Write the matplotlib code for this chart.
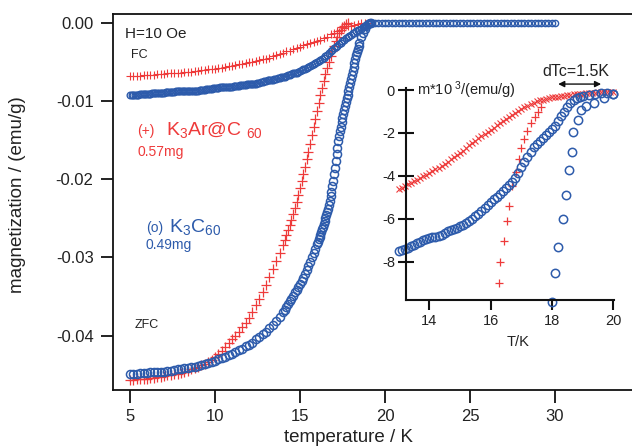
import matplotlib
matplotlib.use("Agg")
import matplotlib.pyplot as plt

plt.rcParams['font.family'] = ['Liberation Sans', 'DejaVu Sans']
plt.rcParams['mathtext.fontset'] = 'custom'
plt.rcParams['mathtext.rm'] = 'Liberation Sans'
plt.rcParams['mathtext.it'] = 'Liberation Sans:italic'
plt.rcParams['mathtext.bf'] = 'Liberation Sans:bold'
plt.rcParams['axes.unicode_minus'] = False

RED = '#ee3a3a'
BLUE = '#2d5bab'
TXT = '#222222'

# ---------------- main panel data (emu/g) ----------------
# K3Ar@C60, field cooled
ar_fc_T = [5.0, 5.2, 5.4, 5.6, 5.8, 6.0, 6.2, 6.4, 6.6, 6.8, 7.0, 7.2, 7.4, 7.6, 7.8, 8.0,
           8.2, 8.4, 8.6, 8.8, 9.0, 9.2, 9.4, 9.6, 9.8, 10.0, 10.2, 10.4, 10.6, 10.8, 11.0,
           11.2, 11.4, 11.6, 11.8, 12.0, 12.2, 12.4, 12.6, 12.8, 13.0, 13.2, 13.4, 13.6, 13.8,
           14.0, 14.2, 14.4, 14.6, 14.8, 15.0, 15.2, 15.4, 15.6, 15.8, 16.0, 16.2, 16.4, 16.6,
           16.8, 17.0, 17.2, 17.4, 17.6, 17.8, 18.0, 18.2, 18.4, 18.6, 18.8, 19.0]
ar_fc_M = [-0.0068, -0.0068, -0.0068, -0.0068, -0.0067, -0.0067, -0.0067, -0.0067, -0.0066,
           -0.0066, -0.0066, -0.0065, -0.0065, -0.0064, -0.0064, -0.0064, -0.0063, -0.0063,
           -0.0063, -0.0062, -0.0062, -0.0061, -0.0061, -0.0060, -0.0060, -0.0059, -0.0058,
           -0.0058, -0.0057, -0.0056, -0.0055, -0.0054, -0.0053, -0.0053, -0.0052, -0.0051,
           -0.0050, -0.0049, -0.0048, -0.0047, -0.0046, -0.0045, -0.0043, -0.0042, -0.0040,
           -0.0039, -0.0037, -0.0036, -0.0034, -0.0033, -0.0031, -0.0029, -0.0027, -0.0026,
           -0.0025, -0.0024, -0.0022, -0.0020, -0.0018, -0.0015, -0.0013, -0.0011, -0.0009,
           -0.0007, -0.0005, -0.0004, -0.0003, -0.0002, -0.0001, -0.0001, 0.0]

# K3C60, field cooled
c60_fc_T = [5.0, 5.1, 5.2, 5.3, 5.4, 5.5, 5.6, 5.7, 5.8, 5.9, 6.0, 6.1, 6.2, 6.3, 6.4, 6.5,
            6.6, 6.7, 6.8, 6.9, 7.0, 7.1, 7.2, 7.3, 7.4, 7.5, 7.6, 7.7, 7.8, 7.9, 8.0, 8.1,
            8.2, 8.3, 8.4, 8.5, 8.6, 8.7, 8.8, 8.9, 9.0, 9.1, 9.2, 9.3, 9.4, 9.5, 9.6, 9.7,
            9.8, 9.9, 10.0, 10.1, 10.2, 10.3, 10.4, 10.5, 10.6, 10.7, 10.8, 10.9, 11.0, 11.1,
            11.2, 11.3, 11.4, 11.5, 11.6, 11.7, 11.8, 11.9, 12.0, 12.1, 12.2, 12.3, 12.4, 12.5,
            12.6, 12.7, 12.8, 12.9, 13.0, 13.1, 13.2, 13.3, 13.4, 13.5, 13.6, 13.7, 13.8, 13.9,
            14.0, 14.1, 14.2, 14.3, 14.4, 14.5, 14.6, 14.7, 14.8, 14.9, 15.0, 15.1, 15.2, 15.3,
            15.4, 15.5, 15.6, 15.7, 15.8, 15.9, 16.0, 16.1, 16.2, 16.3, 16.4, 16.5, 16.6, 16.7,
            16.8, 16.9, 17.0, 17.1, 17.2, 17.3, 17.4, 17.5, 17.6, 17.7, 17.8, 17.9, 18.0, 18.1,
            18.2, 18.3, 18.4, 18.5, 18.6, 18.7, 18.8, 18.9, 19.0, 19.1, 19.2]
c60_fc_M = [-0.0092, -0.0092, -0.0092, -0.0092, -0.0092, -0.0092, -0.0091, -0.0091, -0.0091,
            -0.0091, -0.0091, -0.0091, -0.0091, -0.0090, -0.0090, -0.0090, -0.0090, -0.0090,
            -0.0090, -0.0090, -0.0090, -0.0089, -0.0089, -0.0089, -0.0089, -0.0089, -0.0089,
            -0.0088, -0.0088, -0.0088, -0.0088, -0.0088, -0.0088, -0.0088, -0.0088, -0.0087,
            -0.0087, -0.0087, -0.0087, -0.0087, -0.0087, -0.0086, -0.0086, -0.0086, -0.0086,
            -0.0085, -0.0085, -0.0085, -0.0085, -0.0084, -0.0084, -0.0084, -0.0084, -0.0083,
            -0.0083, -0.0083, -0.0083, -0.0082, -0.0082, -0.0082, -0.0082, -0.0081, -0.0081,
            -0.0081, -0.0081, -0.0080, -0.0080, -0.0080, -0.0080, -0.0079, -0.0079, -0.0079,
            -0.0078, -0.0078, -0.0078, -0.0077, -0.0077, -0.0076, -0.0076, -0.0075, -0.0075,
            -0.0074, -0.0074, -0.0073, -0.0073, -0.0072, -0.0072, -0.0071, -0.0071, -0.0070,
            -0.0070, -0.0069, -0.0068, -0.0067, -0.0067, -0.0066, -0.0065, -0.0064, -0.0064,
            -0.0063, -0.0062, -0.0061, -0.0060, -0.0059, -0.0058, -0.0057, -0.0056, -0.0054,
            -0.0053, -0.0052, -0.0051, -0.0049, -0.0048, -0.0046, -0.0045, -0.0043, -0.0041,
            -0.0039, -0.0037, -0.0035, -0.0033, -0.0031, -0.0030, -0.0028, -0.0026, -0.0024,
            -0.0022, -0.0020, -0.0019, -0.0017, -0.0016, -0.0014, -0.0013, -0.0011, -0.0010,
            -0.0009, -0.0008, -0.0006, -0.0005, -0.0003, -0.0002, -0.0001, 0.0]

# K3Ar@C60, zero field cooled
ar_zfc_T = [5.0, 5.2, 5.4, 5.6, 5.8, 6.0, 6.2, 6.4, 6.6, 6.8, 7.0, 7.2, 7.4, 7.6, 7.8, 8.0,
            8.2, 8.4, 8.6, 8.8, 9.0, 9.2, 9.4, 9.6, 9.8, 10.0, 10.2, 10.4, 10.6, 10.8, 11.0,
            11.2, 11.4, 11.6, 11.8, 12.0, 12.2, 12.4, 12.6, 12.8, 13.0, 13.2, 13.4, 13.6, 13.8,
            14.0, 14.1, 14.2, 14.3, 14.4, 14.5, 14.6, 14.7, 14.8, 14.9, 15.0, 15.1, 15.2, 15.3,
            15.4, 15.5, 15.6, 15.7, 15.8, 15.9, 16.0, 16.1, 16.2, 16.3, 16.4, 16.5, 16.6, 16.7,
            16.8, 16.9, 17.0, 17.1, 17.2, 17.3, 17.4, 17.5, 17.6, 17.7, 17.8]
ar_zfc_M = [-0.0457, -0.0457, -0.0456, -0.0456, -0.0455, -0.0455, -0.0454, -0.0454, -0.0453,
            -0.0453, -0.0452, -0.0451, -0.0450, -0.0449, -0.0449, -0.0448, -0.0446, -0.0445,
            -0.0443, -0.0442, -0.0440, -0.0438, -0.0436, -0.0434, -0.0431, -0.0428, -0.0424,
            -0.0420, -0.0415, -0.0410, -0.0405, -0.0400, -0.0395, -0.0389, -0.0384, -0.0378,
            -0.0370, -0.0361, -0.0353, -0.0344, -0.0335, -0.0325, -0.0315, -0.0305, -0.0294,
            -0.0284, -0.0278, -0.0272, -0.0265, -0.0259, -0.0252, -0.0245, -0.0237, -0.0229,
            -0.0221, -0.0212, -0.0203, -0.0194, -0.0184, -0.0175, -0.0165, -0.0155, -0.0144,
            -0.0134, -0.0123, -0.0113, -0.0103, -0.0093, -0.0084, -0.0075, -0.0066, -0.0058,
            -0.0050, -0.0043, -0.0036, -0.0030, -0.0024, -0.0018, -0.0013, -0.0009, -0.0006,
            -0.0004, -0.0002, -0.0001]

# K3C60, zero field cooled
c60_zfc_T = [5.0, 5.2, 5.4, 5.6, 5.8, 6.0, 6.2, 6.4, 6.6, 6.8, 7.0, 7.2, 7.4, 7.6, 7.8, 8.0,
             8.2, 8.4, 8.6, 8.8, 9.0, 9.2, 9.4, 9.6, 9.8, 10.0, 10.2, 10.4, 10.6, 10.8, 11.0,
             11.2, 11.4, 11.6, 11.8, 12.0, 12.2, 12.4, 12.6, 12.8, 13.0, 13.2, 13.4, 13.6, 13.8,
             14.0, 14.1, 14.2, 14.3, 14.4, 14.5, 14.6, 14.7, 14.8, 14.9, 15.0, 15.1, 15.2, 15.3,
             15.4, 15.5, 15.6, 15.7, 15.8, 15.9, 16.0, 16.05, 16.1, 16.15, 16.2, 16.25, 16.3,
             16.35, 16.4, 16.45, 16.5, 16.55, 16.6, 16.65, 16.7, 16.75, 16.8, 16.85, 16.9, 16.95,
             17.0, 17.05, 17.1, 17.15, 17.2, 17.25, 17.3, 17.35, 17.4, 17.45, 17.5, 17.55, 17.6,
             17.65, 17.7, 17.75, 17.8, 17.85, 17.9, 17.95, 18.0, 18.05, 18.1, 18.15, 18.2, 18.25,
             18.3, 18.35, 18.4, 18.45, 18.5, 18.6, 18.7, 18.8, 18.9, 19.0, 19.1, 19.2]
c60_zfc_M = [-0.0449, -0.0449, -0.0449, -0.0448, -0.0448, -0.0448, -0.0447, -0.0447, -0.0447,
             -0.0446, -0.0446, -0.0445, -0.0445, -0.0444, -0.0443, -0.0443, -0.0442, -0.0441,
             -0.0440, -0.0440, -0.0439, -0.0438, -0.0436, -0.0435, -0.0434, -0.0432, -0.0430,
             -0.0429, -0.0427, -0.0425, -0.0423, -0.0421, -0.0419, -0.0417, -0.0414, -0.0412,
             -0.0409, -0.0405, -0.0402, -0.0398, -0.0395, -0.0391, -0.0386, -0.0381, -0.0376,
             -0.0370, -0.0367, -0.0363, -0.0360, -0.0356, -0.0353, -0.0349, -0.0345, -0.0342,
             -0.0338, -0.0334, -0.0330, -0.0326, -0.0321, -0.0316, -0.0311, -0.0306, -0.0300,
             -0.0295, -0.0289, -0.0283, -0.0280, -0.0277, -0.0274, -0.0271, -0.0268, -0.0264,
             -0.0261, -0.0258, -0.0254, -0.0250, -0.0246, -0.0242, -0.0238, -0.0233, -0.0228,
             -0.0222, -0.0216, -0.0209, -0.0202, -0.0194, -0.0186, -0.0177, -0.0168, -0.0160,
             -0.0152, -0.0145, -0.0139, -0.0133, -0.0127, -0.0122, -0.0117, -0.0112, -0.0107,
             -0.0102, -0.0097, -0.0092, -0.0087, -0.0082, -0.0077, -0.0072, -0.0067, -0.0062,
             -0.0057, -0.0052, -0.0047, -0.0042, -0.0038, -0.0034, -0.0030, -0.0026, -0.0019,
             -0.0013, -0.0008, -0.0005, -0.0002, -0.0001, 0.0]

# normal state (above Tc), both samples
normal_T = [19.4, 19.6, 19.8, 20.0, 20.2, 20.4, 20.6, 20.8, 21.0, 21.2, 21.4, 21.6, 21.8, 22.0,
            22.2, 22.4, 22.6, 22.8, 23.0, 23.2, 23.4, 23.6, 23.8, 24.0, 24.2, 24.4, 24.6, 24.8,
            25.0, 25.2, 25.4, 25.6, 25.8, 26.0, 26.2, 26.4, 26.6, 26.8, 27.0, 27.2, 27.4, 27.6,
            27.8, 28.0, 28.2, 28.4, 28.6, 28.8, 29.0, 29.2, 29.4, 29.6, 29.8, 30.0]
normal_M = [0.0, 0.0, 0.0, 0.0, 0.0, 0.0, 0.0, 0.0, 0.0, 0.0, 0.0, 0.0, 0.0, 0.0, 0.0, 0.0,
            0.0, 0.0, 0.0, 0.0, 0.0, 0.0, 0.0, 0.0, 0.0, 0.0, 0.0, 0.0, 0.0, 0.0, 0.0, 0.0,
            0.0, 0.0, 0.0, 0.0, 0.0, 0.0, 0.0, 0.0, 0.0, 0.0, 0.0, 0.0, 0.0, 0.0, 0.0, 0.0,
            0.0, 0.0, 0.0, 0.0, 0.0, 0.0]

main_xticks = [5, 10, 15, 20, 25, 30]
main_yticks = [0.0, -0.01, -0.02, -0.03, -0.04]
main_yticklabels = ['0.00', '-0.01', '-0.02', '-0.03', '-0.04']

# ---------------- inset data (m * 10^3, emu/g) ----------------
in_ar_fc_T = [13.0, 13.1, 13.2, 13.3, 13.4, 13.5, 13.6, 13.7, 13.8, 13.9, 14.0, 14.1, 14.2,
              14.3, 14.4, 14.5, 14.6, 14.7, 14.8, 14.9, 15.0, 15.1, 15.2, 15.3, 15.4, 15.5,
              15.6, 15.7, 15.8, 15.9, 16.0, 16.1, 16.2, 16.3, 16.4, 16.5, 16.6, 16.7, 16.8,
              16.9, 17.0, 17.1, 17.2, 17.3, 17.4, 17.5, 17.6, 17.7, 17.8, 17.9, 18.0, 18.1,
              18.2, 18.3, 18.4, 18.5, 18.6, 18.7, 18.8, 18.9, 19.0, 19.1, 19.2, 19.3, 19.4,
              19.5, 19.6, 19.7, 19.8, 19.9, 20.0]
in_ar_fc_M = [-4.62, -4.55, -4.48, -4.40, -4.33, -4.25, -4.18, -4.10, -4.02, -3.94, -3.86,
              -3.78, -3.70, -3.62, -3.53, -3.44, -3.33, -3.23, -3.13, -3.03, -2.93, -2.82,
              -2.70, -2.58, -2.47, -2.36, -2.25, -2.14, -2.04, -1.95, -1.86, -1.76, -1.65,
              -1.54, -1.44, -1.34, -1.24, -1.14, -1.05, -0.96, -0.88, -0.80, -0.72, -0.64,
              -0.58, -0.53, -0.48, -0.44, -0.40, -0.37, -0.34, -0.32, -0.30, -0.28, -0.26,
              -0.24, -0.22, -0.20, -0.18, -0.17, -0.16, -0.15, -0.14, -0.13, -0.12, -0.11,
              -0.10, -0.10, -0.09, -0.09, -0.08]

in_ar_zfc_T = [16.27, 16.32, 16.43, 16.52, 16.60, 16.70, 16.82, 16.93, 16.98, 17.08, 17.20,
               17.32, 17.45, 17.55, 17.65]
in_ar_zfc_M = [-9.0, -8.02, -7.04, -6.10, -5.40, -4.45, -3.80, -3.20, -2.70, -2.30, -1.90,
               -1.55, -1.25, -1.00, -0.80]

in_c60_fc_T = [13.0, 13.1, 13.2, 13.3, 13.4, 13.5, 13.6, 13.7, 13.8, 13.9, 14.0, 14.1, 14.2,
               14.3, 14.4, 14.5, 14.6, 14.7, 14.8, 14.9, 15.0, 15.1, 15.2, 15.3, 15.4, 15.5,
               15.6, 15.7, 15.8, 15.9, 16.0, 16.1, 16.2, 16.3, 16.4, 16.5, 16.6, 16.7, 16.8,
               16.9, 17.0, 17.1, 17.2, 17.3, 17.4, 17.5, 17.6, 17.7, 17.8, 17.9, 18.0, 18.1,
               18.2, 18.3, 18.4, 18.5, 18.6, 18.7, 18.8, 18.9, 19.0, 19.2, 19.4, 19.6, 19.8,
               20.0]
in_c60_fc_M = [-7.52, -7.47, -7.41, -7.35, -7.28, -7.22, -7.15, -7.07, -7.00, -6.94, -6.90,
               -6.86, -6.83, -6.80, -6.74, -6.66, -6.59, -6.53, -6.47, -6.41, -6.35, -6.27,
               -6.19, -6.10, -6.00, -5.88, -5.76, -5.63, -5.49, -5.36, -5.23, -5.10, -4.97,
               -4.84, -4.70, -4.56, -4.42, -4.27, -4.10, -3.88, -3.60, -3.35, -3.10, -2.87,
               -2.65, -2.50, -2.37, -2.24, -2.10, -1.96, -1.82, -1.66, -1.46, -1.23, -1.00,
               -0.79, -0.62, -0.48, -0.39, -0.33, -0.28, -0.21, -0.16, -0.15, -0.15, -0.16]

in_c60_zfc_T = [17.99, 18.10, 18.20, 18.35, 18.45, 18.56, 18.64, 18.67, 18.84, 18.95, 19.10,
                19.38, 19.70, 20.00]
in_c60_zfc_M = [-9.86, -8.55, -7.30, -6.00, -4.90, -3.74, -2.88, -1.95, -1.40, -0.93, -0.75,
                -0.62, -0.35, -0.16]

in_xticks = [14, 16, 18, 20]
in_yticks = [0, -2, -4, -6, -8]

# ---------------- figure ----------------
W, H = 632, 447
fig = plt.figure(figsize=(W / 100, H / 100), dpi=100)

def fx(px):
    return px / W

def fy(py):
    return 1 - py / H

ax = fig.add_axes([fx(113), fy(390), fx(632) - fx(113), fy(14) - fy(390)])
ax.set_xlim(4.0, 34.53)
ax.set_ylim(-0.04696, 0.00109)

ax.plot(ar_fc_T, ar_fc_M, ls='none', marker='+', ms=6, mew=0.8, color=RED)
ax.plot(ar_zfc_T, ar_zfc_M, ls='none', marker='+', ms=6.5, mew=0.9, color=RED)
ax.plot(c60_fc_T, c60_fc_M, ls='none', marker='o', ms=4.8, mfc='none', mew=1.0, color=BLUE)
ax.plot(c60_zfc_T, c60_zfc_M, ls='none', marker='o', ms=5.8, mfc='none', mew=1.1, color=BLUE)
ax.plot(normal_T, normal_M, ls='none', marker='o', ms=4.5, mfc='none', mew=1.0, color=BLUE)

ax.spines['right'].set_visible(False)
for s in ['left', 'bottom', 'top']:
    ax.spines[s].set_linewidth(1.3)
    ax.spines[s].set_color('#111111')
ax.set_xticks(main_xticks)
ax.set_yticks(main_yticks)
ax.set_yticklabels(main_yticklabels)
ax.tick_params(direction='out', length=9, width=1.3, labelsize=12, colors='#111111',
               labelcolor=TXT, pad=5)
ax.tick_params(top=False, right=False)

fig.text(fx(18), fy(195), 'magnetization / (emu/g)', rotation=90, ha='center', va='center',
         fontsize=13.5, color=TXT)
fig.text(fx(349), fy(438), 'temperature / K', ha='center', va='center', fontsize=13.5, color=TXT)

# annotations in main panel
fig.text(fx(125), fy(34), 'H=10 Oe', ha='left', va='center', fontsize=11, color=TXT)
fig.text(fx(131), fy(55), 'FC', ha='left', va='center', fontsize=9, color=TXT)
fig.text(fx(135), fy(325), 'ZFC', ha='left', va='center', fontsize=9, color=TXT)
fig.text(fx(137), fy(131), '(+)', ha='left', va='center', fontsize=10, color=RED)
fig.text(fx(166), fy(135), r'K$_3$Ar@C$\ _{60}$', ha='left', va='baseline', fontsize=14, color=RED)
fig.text(fx(137), fy(152), '0.57mg', ha='left', va='center', fontsize=10, color=RED)
fig.text(fx(146), fy(228), '(o)', ha='left', va='center', fontsize=10, color=BLUE)
fig.text(fx(169), fy(232), r'K$_3$C$_{60}$', ha='left', va='baseline', fontsize=14, color=BLUE)
fig.text(fx(146), fy(245), '0.49mg', ha='left', va='center', fontsize=10, color=BLUE)

# ---------------- inset ----------------
axi = fig.add_axes([fx(406), fy(300.3), fx(614) - fx(406), fy(87.5) - fy(300.3)])
axi.patch.set_alpha(0)
axi.set_xlim(13.24, 20.02)
axi.set_ylim(-9.80, 0.12)
axi.plot(in_ar_fc_T, in_ar_fc_M, ls='none', marker='x', ms=4, mew=0.8, color=RED, clip_on=False)
axi.plot(in_ar_zfc_T, in_ar_zfc_M, ls='none', marker='+', ms=6, mew=0.9, color=RED, clip_on=False)
axi.plot(in_c60_fc_T, in_c60_fc_M, ls='none', marker='o', ms=6, mfc='none', mew=1.1,
         color=BLUE, clip_on=False)
axi.plot(in_c60_zfc_T, in_c60_zfc_M, ls='none', marker='o', ms=6, mfc='none', mew=1.1,
         color=BLUE, clip_on=False)
axi.spines['top'].set_visible(False)
axi.spines['right'].set_visible(False)
for s in ['left', 'bottom']:
    axi.spines[s].set_linewidth(1.5)
    axi.spines[s].set_color('#111111')
axi.set_xticks(in_xticks)
axi.set_yticks(in_yticks)
axi.tick_params(axis='x', direction='out', length=7, width=1.5, labelsize=10.5,
                colors='#111111', labelcolor=TXT, pad=3)
axi.tick_params(axis='y', direction='inout', length=12, width=1.5, labelsize=10.5,
                colors='#111111', labelcolor=TXT, pad=2)
fig.text(fx(518), fy(342), 'T/K', ha='center', va='center', fontsize=10.5, color=TXT)
fig.text(fx(417), fy(90), r'm*10$^{\ 3}$/(emu/g)', ha='left', va='center', fontsize=10.5,
         color=TXT)
fig.text(fx(576), fy(72), 'dTc=1.5K', ha='center', va='center', fontsize=11.5, color=TXT)
axi.annotate('', xy=(19.6, 0.28), xytext=(18.2, 0.28),
             arrowprops=dict(arrowstyle='<|-|>', color='#111111', lw=1.0,
                             mutation_scale=9, shrinkA=0, shrinkB=0),
             annotation_clip=False)

fig.savefig('out.png', dpi=100)
